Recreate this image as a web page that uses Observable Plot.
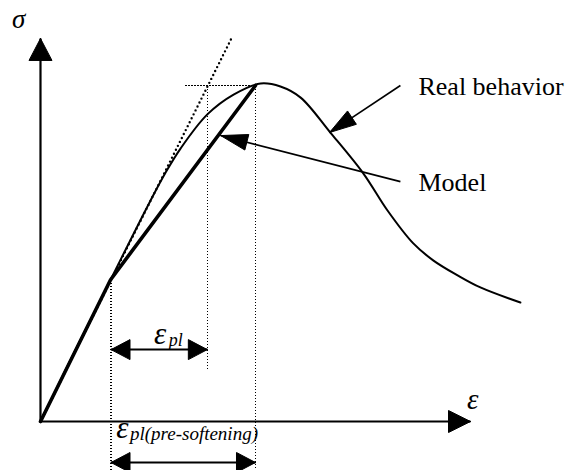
<!DOCTYPE html>
<html>
<head>
<meta charset="utf-8">
<script src="https://cdn.jsdelivr.net/npm/d3@7"></script>
<script src="https://cdn.jsdelivr.net/npm/@observablehq/plot@0.6"></script>
<style>
  html, body { margin: 0; padding: 0; background: #fff; }
  #chart { width: 568px; height: 470px; overflow: hidden; }
</style>
</head>
<body>
<div id="chart"></div>
<script>
// ---------- data (strain units, stress units) ----------
const realStrain = [0, 0.81, 1.63, 2.56, 2.91, 3.26, 3.88, 4.49, 5.12, 5.58, 6.05, 6.74, 7.51, 8.07, 8.67, 9.14, 9.70, 10.23, 11.16];
const realStress = [0, 2.12, 4.22, 6.58, 7.41, 8.13, 9.14, 9.73, 10.06, 9.97, 9.64, 8.60, 7.38, 6.28, 5.30, 4.79, 4.35, 3.99, 3.54];

const modelStrain = [0, 1.63, 5.0];
const modelStress = [0, 4.22, 10.0];

const tangentStrain = [0, 4.44];
const tangentStress = [0, 11.40];

const keyStrains = [1.64, 3.88, 5.0];      // yield, tangent at peak, peak
const peakStress = 10.0;
const peakGuideStart = 3.37;              // start of dotted horizontal at the peak
const guideBottom = -1.46;                // dotted verticals run down to here
const epsPlGuideBottom = 1.52;

const axisStrainMax = 10.0;
const axisStressMax = 11.40;

const dimLevels = [2.14, -1.22];          // ε_pl, ε_pl(pre-softening)
const dimEnds = [3.88, 5.0];

const labelTexts = ["Real behavior", "Model"];
const labelStrain = [8.79, 8.79];
const labelStress = [9.73, 6.875];
const pointerFromStrain = [8.37, 8.37];
const pointerFromStress = [10.0, 7.14];
const pointerToStrain = [6.72, 4.19];
const pointerToStress = [8.60, 8.51];

// ---------- scales ----------
const W = 568, H = 470;
const xDomain = [-0.930, 12.279];
const yDomain = [-1.458, 12.530];
const X = Plot.scale({x: {domain: xDomain, range: [0, W]}});
const Y = Plot.scale({y: {domain: yDomain, range: [H, 0]}});

// filled arrowhead polygons (tip at (tx,ty), pointing away from (fx,fy))
const heads = [];
let headId = 0;
function head(tx, ty, fx, fy, len, half) {
  const px = X.apply(tx), py = Y.apply(ty);
  const qx = X.apply(fx), qy = Y.apply(fy);
  const d = Math.hypot(qx - px, qy - py);
  const ux = (qx - px) / d, uy = (qy - py) / d;
  const bx = px + ux * len, by = py + uy * len;
  const pts = [[px, py], [bx - uy * half, by + ux * half], [bx + uy * half, by - ux * half], [px, py]];
  const id = headId++;
  for (const [a, b] of pts) heads.push({x: X.invert(a), y: Y.invert(b), id});
}

const zip = (xs, ys) => xs.map((x, i) => ({x, y: ys[i]}));
const real = zip(realStrain, realStress);
const model = zip(modelStrain, modelStress);
const tangent = zip(tangentStrain, tangentStress);

// axes
const axes = [
  {x1: 0, y1: 0, x2: 0, y2: axisStressMax},
  {x1: 0, y1: 0, x2: axisStrainMax, y2: 0}
];
head(0, axisStressMax, 0, 0, 22, 11.5);
head(axisStrainMax, 0, 0, 0, 22, 11);

// dotted guides
const guides = [
  {x1: keyStrains[0], y1: modelStress[1], x2: keyStrains[0], y2: guideBottom},
  {x1: keyStrains[2], y1: peakStress, x2: keyStrains[2], y2: guideBottom},
  {x1: keyStrains[1], y1: peakStress, x2: keyStrains[1], y2: epsPlGuideBottom},
  {x1: peakGuideStart, y1: peakStress, x2: keyStrains[2], y2: peakStress}
];

// dimension arrows
const dims = dimLevels.map((lv, i) => ({x1: keyStrains[0], y1: lv, x2: dimEnds[i], y2: lv}));
dims.forEach(d => { head(d.x1, d.y1, d.x2, d.y2, 19, 10); head(d.x2, d.y2, d.x1, d.y1, 19, 10); });

// pointers
const pointers = labelTexts.map((t, i) => ({x1: pointerFromStrain[i], y1: pointerFromStress[i], x2: pointerToStrain[i], y2: pointerToStress[i]}));
pointers.forEach(p => head(p.x2, p.y2, p.x1, p.y1, 27, 8));

const labels = labelTexts.map((t, i) => ({t, x: labelStrain[i], y: labelStress[i]}));

const serif = "Liberation Serif, Times New Roman, serif";
const txt = {x: "x", y: "y", text: "t", textAnchor: "start", lineAnchor: "bottom", fontFamily: serif, fill: "black"};

const chart = Plot.plot({
  width: W, height: H, margin: 0,
  x: {domain: xDomain, axis: null},
  y: {domain: yDomain, axis: null},
  style: {background: "white", color: "black"},
  marks: [
    Plot.link(guides, {x1: "x1", y1: "y1", x2: "x2", y2: "y2", stroke: "black", strokeWidth: 1.2, strokeDasharray: "1.5,1.5", shapeRendering: "crispEdges"}),
    Plot.line(tangent, {x: "x", y: "y", stroke: "black", strokeWidth: 2.4, strokeDasharray: "0,4.4", strokeLinecap: "round"}),
    Plot.link(axes, {x1: "x1", y1: "y1", x2: "x2", y2: "y2", stroke: "black", strokeWidth: 2.2}),
    Plot.line(real, {x: "x", y: "y", curve: "catmull-rom", stroke: "black", strokeWidth: 2}),
    Plot.line(model, {x: "x", y: "y", stroke: "black", strokeWidth: 3.6, strokeLinejoin: "round"}),
    Plot.link(dims, {x1: "x1", y1: "y1", x2: "x2", y2: "y2", stroke: "black", strokeWidth: 2}),
    Plot.link(pointers, {x1: "x1", y1: "y1", x2: "x2", y2: "y2", stroke: "black", strokeWidth: 1.6}),
    Plot.line(heads, {x: "x", y: "y", z: "id", fill: "black", stroke: "black", strokeWidth: 1, strokeLinejoin: "miter"}),
    Plot.text(labels, {...txt, fontSize: 26}),
    // Greek symbols
    Plot.text([{t: "σ", x: -0.66, y: 11.72}], {...txt, fontStyle: "italic", fontSize: 27}),
    Plot.text([{t: "ε", x: 9.92, y: 0.36}], {...txt, fontStyle: "italic", fontSize: 29}),
    Plot.text([{t: "ε", x: 2.64, y: 2.32}, {t: "ε", x: 1.76, y: -0.48}], {...txt, fontStyle: "italic", fontSize: 31}),
    Plot.text([{t: "pl", x: 2.98, y: 2.25}], {...txt, fontStyle: "italic", fontSize: 18}),
    Plot.text([{t: "pl(pre-softening)", x: 2.08, y: -0.55}], {...txt, fontStyle: "italic", fontSize: 19})
  ]
});
document.getElementById("chart").appendChild(chart);
</script>
</body>
</html>
